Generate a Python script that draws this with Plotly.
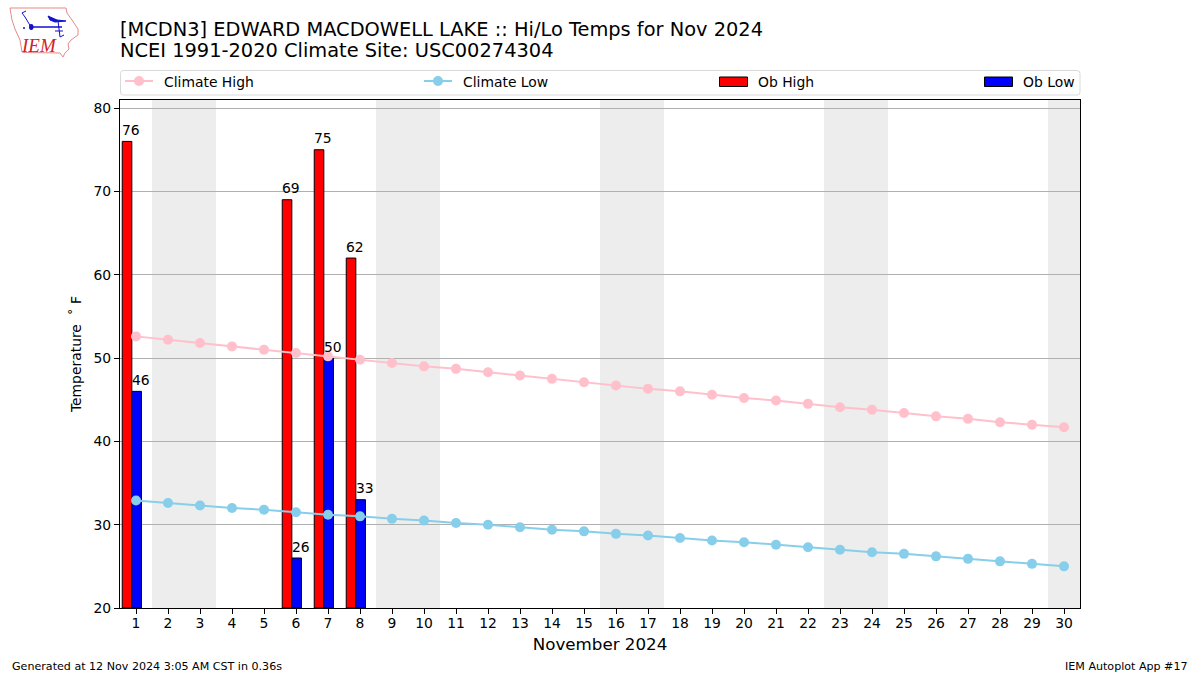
import plotly.graph_objects as go

days = list(range(1, 31))
climate_high = [52.6,52.2,51.8,51.4,51.0,50.6,50.2,49.8,49.4,49.0,48.7,48.3,47.9,47.5,47.1,
                46.7,46.3,46.0,45.6,45.2,44.9,44.5,44.1,43.8,43.4,43.0,42.7,42.3,42.0,41.7]
climate_low = [32.9,32.6,32.3,32.0,31.8,31.5,31.2,31.0,30.7,30.5,30.2,30.0,29.7,29.4,29.2,
               28.9,28.7,28.4,28.1,27.9,27.6,27.3,27.0,26.7,26.5,26.2,25.9,25.6,25.3,25.0]
ob_days = [1, 6, 7, 8]
ob_high = [76, 69, 75, 62]
ob_low = [46, 26, 50, 33]
weekends = [(1.5, 3.5), (8.5, 10.5), (15.5, 17.5), (22.5, 24.5), (29.5, 30.5)]

FONT = "DejaVu Sans"
W, H = 1200, 675
L, R, T, B = 120, 1080, 100, 608


def px(x):
    return (x - L) / (R - L)


def py(y):
    return (B - y) / (B - T)


fig = go.Figure()
fig.add_bar(x=ob_days, y=[v - 20 for v in ob_high], base=20, offset=-0.43, width=0.3, name="Ob High",
            marker=dict(color="#ff0000", line=dict(color="black", width=1)), showlegend=False)
fig.add_bar(x=ob_days, y=[v - 20 for v in ob_low], base=20, offset=-0.13, width=0.3, name="Ob Low",
            marker=dict(color="#0000ff", line=dict(color="black", width=1)), showlegend=False)
fig.add_scatter(x=days, y=climate_high, mode="lines+markers", name="Climate High",
                line=dict(color="#ffc0cb", width=2), marker=dict(color="#ffc0cb", size=10), showlegend=False)
fig.add_scatter(x=days, y=climate_low, mode="lines+markers", name="Climate Low",
                line=dict(color="#87ceeb", width=2), marker=dict(color="#87ceeb", size=10), showlegend=False)

shapes = []
for a, b in weekends:
    shapes.append(dict(type="rect", xref="x", yref="paper", x0=a, x1=b, y0=0, y1=1,
                       fillcolor="#ededed", line_width=0, layer="below"))

annots = []
for d, h, l in zip(ob_days, ob_high, ob_low):
    for val, off in ((h, -0.43), (l, -0.13)):
        annots.append(dict(x=d + off, y=val, text=str(val), showarrow=False, xanchor="left", yanchor="bottom",
                           xshift=-2, yshift=1.5, font=dict(family=FONT, size=13.9, color="black")))


def ptext(x, y, text, size, anchor="left", **kw):
    annots.append(dict(xref="paper", yref="paper", x=px(x), y=py(y), text=text, showarrow=False, xanchor=anchor,
                       yanchor="middle", borderpad=0, font=dict(family=FONT, size=size, color=kw.get("color", "black"))))


# Title, footer
ptext(119, 29, "[MCDN3] EDWARD MACDOWELL LAKE :: Hi/Lo Temps for Nov 2024", 19.4)
ptext(119, 50.5, "NCEI 1991-2020 Climate Site: USC00274304", 19.4)
ptext(11, 666, "Generated at 12 Nov 2024 3:05 AM CST in 0.36s", 11.1)
ptext(1189, 666, "IEM Autoplot App #17", 11.1, anchor="right")


def pshape(kind, x0, y0, x1, y1, **kw):
    shapes.append(dict(type=kind, xref="paper", yref="paper", x0=px(x0), y0=py(y0), x1=px(x1), y1=py(y1), **kw))


def ppath(points, close=False, **kw):
    d = "M" + "L".join(f"{px(x):.5f},{py(y):.5f}" for x, y in points) + ("Z" if close else "")
    shapes.append(dict(type="path", xref="paper", yref="paper", path=d, **kw))


# Legend box with rounded corners
x0, x1, y0, y1, r = 120.5, 1080, 70.5, 95, 3
d = (f"M{px(x0+r)},{py(y0)}L{px(x1-r)},{py(y0)}Q{px(x1)},{py(y0)} {px(x1)},{py(y0+r)}"
     f"L{px(x1)},{py(y1-r)}Q{px(x1)},{py(y1)} {px(x1-r)},{py(y1)}L{px(x0+r)},{py(y1)}"
     f"Q{px(x0)},{py(y1)} {px(x0)},{py(y1-r)}L{px(x0)},{py(y0+r)}Q{px(x0)},{py(y0)} {px(x0+r)},{py(y0)}Z")
shapes.append(dict(type="path", xref="paper", yref="paper", path=d, line=dict(color="#d9d9d9", width=1),
                   fillcolor="white"))
for lx, color, label in ((125, "#ffc0cb", "Climate High"), (424, "#87ceeb", "Climate Low")):
    pshape("line", lx, 81, lx + 28, 81, line=dict(color=color, width=2))
    pshape("circle", lx + 9, 76, lx + 19, 86, fillcolor=color, line=dict(color=color, width=0))
    ptext(lx + 38, 81.5, label, 13.9)
for lx, color, label in ((719.5, "#ff0000", "Ob High"), (984.5, "#0000ff", "Ob Low")):
    pshape("rect", lx, 77, lx + 28, 86.5, fillcolor=color, line=dict(color="black", width=1))
    ptext(lx + 37.5, 81.5, label, 13.9)

# IEM logo: Iowa outline and station-plot glyphs
ppath([(10, 8), (66, 8), (67, 13), (72, 20), (78, 29), (78, 35), (71, 40), (68, 44), (69, 49), (65, 53),
       (63, 57), (60, 53), (24, 52.5), (22, 52), (20, 40), (15, 29), (12, 20)], close=True,
      line=dict(color="#e58a8a", width=1), fillcolor="white")
ppath([(31, 27), (62, 27)], line=dict(color="#1111cc", width=1.5))
ppath([(31, 27), (25, 17), (22, 13)], line=dict(color="#1111cc", width=1))
ppath([(22, 13), (26, 11)], line=dict(color="#1111cc", width=1))
ppath([(48, 16), (57, 20), (66, 21), (55, 22), (50, 20)], close=True, line=dict(color="#1111cc", width=1),
      fillcolor="#1111cc")
ppath([(58, 21), (60, 37)], line=dict(color="#1111cc", width=1))
ppath([(55, 31), (63, 31)], line=dict(color="#1111cc", width=1))
ppath([(60, 37), (64, 35)], line=dict(color="#1111cc", width=1))
pshape("circle", 29, 24, 33.5, 30, fillcolor="#1111cc", line_width=0)
pshape("circle", 23, 27, 25, 29, fillcolor="#1111cc", line_width=0)
annots.append(dict(xref="paper", yref="paper", x=px(20), y=py(45.5), text="<i>IEM</i>", showarrow=False, xanchor="left",
                   yanchor="middle", borderpad=0, font=dict(family="Liberation Serif", size=19, color="#d42027")))

fig.update_layout(
    width=W, height=H, autosize=False, template=None, barmode="overlay", showlegend=False,
    paper_bgcolor="white", plot_bgcolor="white", font=dict(family=FONT, size=13.9, color="black"),
    margin=dict(l=L, r=W - R, t=T, b=H - B, pad=0),
    shapes=shapes, annotations=annots,
    xaxis=dict(range=[0.5, 30.5], tickmode="array", tickvals=days, ticktext=[str(d) for d in days],
               ticks="outside", ticklen=5, tickwidth=1, tickcolor="black", showgrid=False, zeroline=False,
               showline=True, linecolor="black", linewidth=1, mirror=True, ticklabelstandoff=-3,
               title=dict(text="November 2024", font=dict(size=16.7), standoff=8), tickfont=dict(size=13.9)),
    yaxis=dict(range=[20, 80.97], tickvals=[20, 30, 40, 50, 60, 70, 80], ticks="outside", ticklen=5, tickwidth=1,
               tickcolor="black", showgrid=True, gridcolor="#b0b0b0", gridwidth=1, zeroline=False,
               showline=True, linecolor="black", linewidth=1, mirror=True,
               title=dict(text="Temperature  ˚ F", font=dict(size=13.9), standoff=8), tickfont=dict(size=13.9)),
)
fig.write_html("out.html", config={"displayModeBar": False},
               post_script="document.body.style.margin='0';document.documentElement.style.overflow='hidden';")
